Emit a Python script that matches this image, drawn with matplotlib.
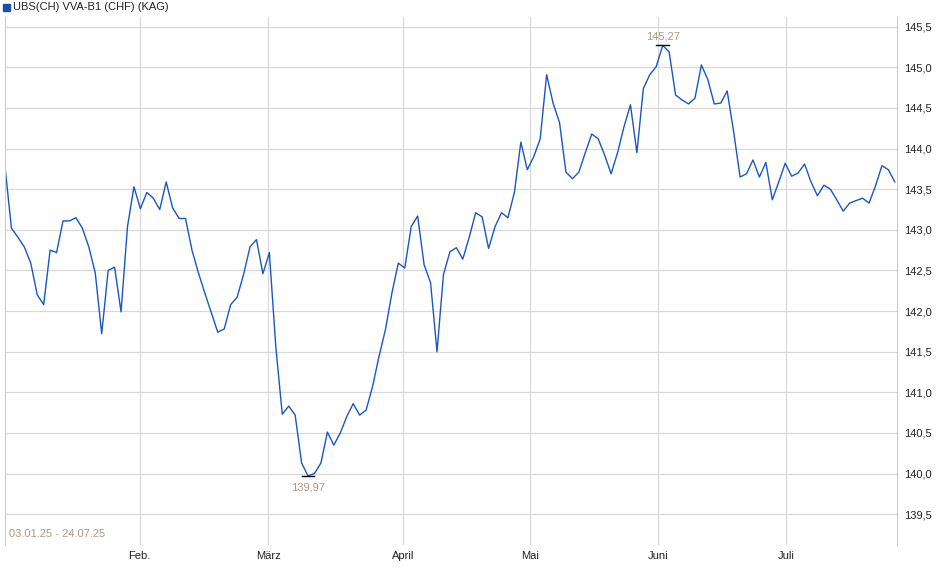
import matplotlib
matplotlib.use("Agg")
import matplotlib.pyplot as plt
import numpy as np

plt.rcParams["font.family"] = ["Liberation Sans", "DejaVu Sans"]

TITLE = "UBS(CH) VVA-B1 (CHF) (KAG)"
RANGE_TXT = "03.01.25 - 24.07.25"

# Kurse je Handelstag
prices = [
    143.78, 143.02, 142.91, 142.79, 142.59, 142.20, 142.08, 142.75, 142.72, 143.11,
    143.11, 143.15, 143.02, 142.79, 142.47, 141.72, 142.50, 142.54, 141.99, 143.04,
    143.53, 143.26, 143.46, 143.39, 143.25, 143.59, 143.27, 143.14, 143.14, 142.75,
    142.47, 142.22, 141.98, 141.74, 141.78, 142.08, 142.17, 142.45, 142.79, 142.88,
    142.46, 142.72, 141.56, 140.73, 140.83, 140.72, 140.13, 139.97, 140.00, 140.13,
    140.51, 140.35, 140.50, 140.70, 140.86, 140.72, 140.78, 141.07, 141.44, 141.77,
    142.22, 142.59, 142.53, 143.04,
    143.17, 142.57, 142.35, 141.50, 142.45, 142.73, 142.78, 142.64, 142.91, 143.21,
    143.16, 142.77, 143.04, 143.21, 143.15, 143.46, 144.08, 143.74, 143.90, 144.12,
    144.91, 144.56, 144.32, 143.71, 143.63, 143.71, 143.95, 144.18, 144.12, 143.92,
    143.69, 143.95, 144.27, 144.54, 143.95, 144.74, 144.91, 145.01, 145.27, 145.19,
    144.66, 144.60, 144.55, 144.62, 145.03, 144.85, 144.55, 144.56, 144.71, 144.21,
    143.65, 143.69, 143.86, 143.65, 143.83, 143.37, 143.59, 143.82, 143.66, 143.70,
    143.81, 143.59, 143.42, 143.55, 143.50, 143.37, 143.23, 143.33, 143.36, 143.39,
    143.33, 143.54, 143.79, 143.74, 143.59,
]
month_labels = ["Feb.", "März", "April", "Mai", "Juni", "Juli"]
month_pos = [20.9, 40.8, 61.7, 81.4, 101.3, 121.1]
y_ticks = [139.5, 140.0, 140.5, 141.0, 141.5, 142.0, 142.5, 143.0, 143.5, 144.0, 144.5, 145.0, 145.5]

y = np.array(prices)
x = np.arange(len(y))

fig = plt.figure(figsize=(9.4, 5.79), dpi=100)
ax = fig.add_axes([0.0053, 0.0587, 0.9487, 0.9119])
ax.plot(x, y, color="#1a56c4", lw=1.0)
ax.set_xlim(0, 138.3)
ax.set_ylim(139.12, 145.62)

ax.set_yticks(y_ticks)
ax.set_yticklabels([f"{v:.1f}".replace(".", ",") for v in y_ticks])
ax.yaxis.tick_right()
ax.set_xticks(month_pos)
ax.set_xticklabels(month_labels)
ax.tick_params(axis="both", length=0, labelsize=8, colors="#222222")
ax.tick_params(axis="y", pad=5)
ax.tick_params(axis="x", pad=4)
ax.grid(True, color="#d8d8d8", lw=0.9)
ax.set_axisbelow(True)
for s in ["top", "bottom"]:
    ax.spines[s].set_visible(False)
ax.spines["left"].set_color("#cccccc")
ax.spines["right"].set_color("#cccccc")

# Min / Max
imin, imax = int(np.argmin(y)), int(np.argmax(y))
for i in (imin, imax):
    ax.plot([i - 1, i + 1], [y[i], y[i]], color="black", lw=1)
ax.annotate(f"{y[imin]:.2f}".replace(".", ","), (imin, y[imin]), xytext=(0, -5),
            textcoords="offset points", ha="center", va="top", fontsize=8, color="#a89a88")
ax.annotate(f"{y[imax]:.2f}".replace(".", ","), (imax, y[imax]), xytext=(0, 3),
            textcoords="offset points", ha="center", va="bottom", fontsize=8, color="#a89a88")

ax.text(0.004, 0.012, RANGE_TXT, transform=ax.transAxes, fontsize=8, color="#a89a88",
        ha="left", va="bottom")

# Legende oben links
fig.patches.append(plt.Rectangle((3 / 940, 1 - 11 / 579), 7 / 940, 7 / 579,
                                 transform=fig.transFigure, color="#1a4fa8"))
fig.text(13 / 940, 1 - 7.5 / 579, TITLE, fontsize=8, color="#222222", va="center", ha="left")

fig.savefig("out.png", dpi=100)
